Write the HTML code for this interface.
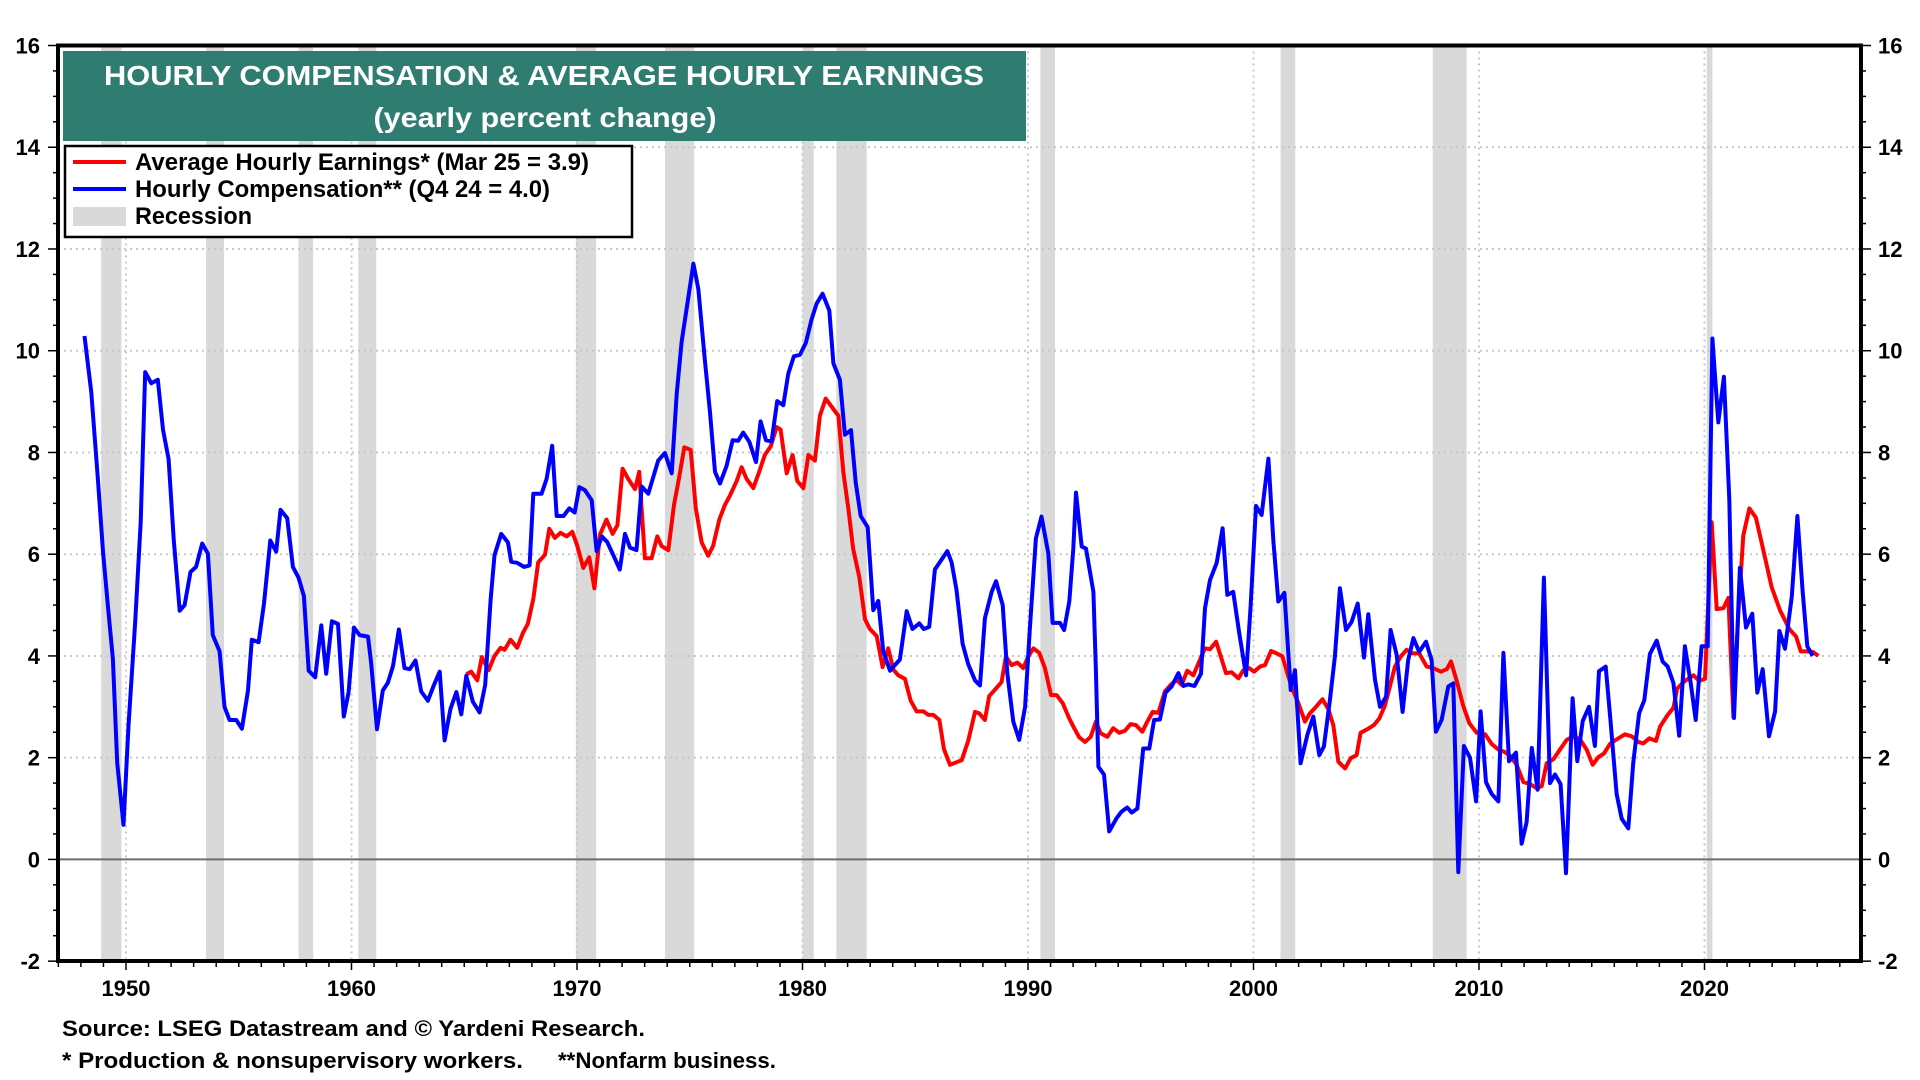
<!DOCTYPE html>
<html><head><meta charset="utf-8"><style>
html,body{margin:0;padding:0;background:#fff;}
svg{display:block;font-family:"Liberation Sans",Arial,sans-serif;}
</style></head><body>
<svg id="chart" width="1920" height="1080" viewBox="0 0 1920 1080" xmlns="http://www.w3.org/2000/svg">
<g id="bands"></g>
<g id="grid"></g>
<g id="series"></g>
<g id="axes"></g>
<g>
<rect x="63" y="51" width="963" height="90" fill="#2f7d70"/>
<text x="544" y="85" text-anchor="middle" fill="#fff" font-weight="bold" font-size="28" textLength="880" lengthAdjust="spacingAndGlyphs">HOURLY COMPENSATION &amp; AVERAGE HOURLY EARNINGS</text>
<text x="545" y="127" text-anchor="middle" fill="#fff" font-weight="bold" font-size="28" textLength="343" lengthAdjust="spacingAndGlyphs">(yearly percent change)</text>
</g>
<g>
<rect x="65" y="146" width="567" height="91" fill="#fff" stroke="#000" stroke-width="2.5"/>
<g>
<line x1="73" y1="162" x2="126" y2="162" stroke="#f00" stroke-width="4"/>
<text x="135" y="170" font-size="24" font-weight="bold" textLength="454" lengthAdjust="spacingAndGlyphs">Average Hourly Earnings* (Mar 25 = 3.9)</text></g>
<g>
<line x1="73" y1="189" x2="126" y2="189" stroke="#00f" stroke-width="4"/>
<text x="135" y="197" font-size="24" font-weight="bold" textLength="415" lengthAdjust="spacingAndGlyphs">Hourly Compensation** (Q4 24 = 4.0)</text></g>
<g>
<rect x="73" y="207" width="53" height="19" fill="#d9d9d9"/>
<text x="135" y="224" font-size="24" font-weight="bold" textLength="117" lengthAdjust="spacingAndGlyphs">Recession</text></g>
</g>
<text x="62" y="1036" font-size="22" font-weight="bold" textLength="583" lengthAdjust="spacingAndGlyphs">Source: LSEG Datastream and © Yardeni Research.</text>
<text x="62" y="1068" font-size="22" font-weight="bold" textLength="461" lengthAdjust="spacingAndGlyphs">* Production &amp; nonsupervisory workers.</text>
<text x="558" y="1068" font-size="22" font-weight="bold" textLength="218" lengthAdjust="spacingAndGlyphs">**Nonfarm business.</text>
</svg>
<script>
const recessionStarts=[1948.9,1953.55,1957.65,1960.3,1969.95,1973.9,1980.0,1981.5,1990.55,2001.2,2007.95,2020.1];
const recessionEnds=[1949.8,1954.35,1958.3,1961.1,1970.85,1975.2,1980.5,1982.85,1991.2,2001.85,2009.45,2020.35];
const yTicks=[-2,0,2,4,6,8,10,12,14,16];
const xTickLabels=[1950,1960,1970,1980,1990,2000,2010,2020];
const blueYears=[1948.16,1948.46,1948.75,1948.98,1949.2,1949.42,1949.61,1949.89,1950.11,1950.41,1950.65,1950.85,1951.12,1951.41,1951.64,1951.89,1952.12,1952.38,1952.6,1952.86,1953.11,1953.38,1953.63,1953.85,1954.15,1954.37,1954.59,1954.89,1955.14,1955.41,1955.58,1955.88,1956.12,1956.4,1956.66,1956.85,1957.15,1957.4,1957.65,1957.89,1958.1,1958.39,1958.66,1958.88,1959.13,1959.4,1959.66,1959.87,1960.11,1960.36,1960.73,1960.87,1961.13,1961.39,1961.61,1961.84,1962.1,1962.35,1962.58,1962.84,1963.09,1963.39,1963.66,1963.91,1964.13,1964.39,1964.65,1964.87,1965.09,1965.38,1965.68,1965.93,1966.17,1966.34,1966.64,1966.94,1967.08,1967.35,1967.65,1967.9,
1968.06,1968.43,1968.65,1968.9,1969.1,1969.4,1969.66,1969.9,1970.1,1970.35,1970.65,1970.87,1971.1,1971.34,1971.6,1971.9,1972.13,1972.35,1972.64,1972.87,1973.16,1973.6,1973.9,1974.2,1974.42,1974.64,1975.16,1975.38,1975.67,1975.9,1976.12,1976.34,1976.63,1976.9,1977.15,1977.37,1977.64,1977.94,1978.14,1978.38,1978.63,1978.88,1979.15,1979.37,1979.62,1979.89,1980.15,1980.4,1980.63,1980.89,1981.19,1981.37,1981.66,1981.88,1982.15,1982.36,1982.58,1982.89,1983.14,1983.36,1983.58,1983.88,1984.32,1984.62,1984.88,1985.18,1985.38,1985.62,1985.87,1986.42,1986.61,1986.83,1987.1,1987.35,1987.65,1987.87,
1988.09,1988.39,1988.58,1988.88,1989.08,1989.35,1989.61,1989.87,1990.09,1990.35,1990.6,1990.9,1991.09,1991.42,1991.6,1991.83,1992.01,1992.13,1992.38,1992.57,1992.9,1993.01,1993.12,1993.37,1993.6,1993.93,1994.15,1994.4,1994.6,1994.85,1995.11,1995.38,1995.59,1995.85,1996.1,1996.37,1996.67,1996.89,1997.11,1997.38,1997.67,1997.85,1998.07,1998.37,1998.63,1998.84,1999.1,1999.37,1999.67,1999.87,2000.11,2000.36,2000.66,2000.88,2001.1,2001.37,2001.65,2001.84,2002.09,2002.39,2002.65,2002.92,2003.12,2003.39,2003.61,2003.83,2004.1,2004.35,2004.62,2004.9,2005.09,2005.39,2005.61,2005.88,2006.08,2006.35,2006.61,2006.86,2007.09,2007.35,2007.65,2007.9,2008.09,2008.34,2008.64,2008.86,
2009.08,2009.33,2009.6,2009.87,2010.07,2010.31,2010.56,2010.86,2011.08,2011.33,2011.64,2011.89,2012.11,2012.34,2012.6,2012.88,2013.15,2013.37,2013.62,2013.86,2014.15,2014.36,2014.6,2014.88,2015.14,2015.32,2015.62,2015.84,2016.1,2016.33,2016.62,2016.84,2017.1,2017.33,2017.58,2017.88,2018.14,2018.37,2018.62,2018.88,2019.13,2019.39,2019.61,2019.87,2020.14,2020.35,2020.61,2020.86,2021.1,2021.31,2021.57,2021.84,2022.12,2022.34,2022.58,2022.86,2023.13,2023.32,2023.57,2023.87,2024.12,2024.35,2024.56,2024.8];
const blueValues=[10.29,9.18,7.5,6.05,4.96,3.94,1.9,0.68,2.63,4.67,6.63,9.58,9.36,9.43,8.45,7.87,6.27,4.89,5.0,5.65,5.75,6.21,6.01,4.41,4.09,3.0,2.74,2.74,2.57,3.32,4.32,4.27,5.03,6.27,6.05,6.87,6.71,5.75,5.54,5.18,3.71,3.58,4.6,3.65,4.68,4.63,2.81,3.29,4.56,4.41,4.38,3.87,2.56,3.32,3.47,3.8,4.52,3.76,3.74,3.91,3.3,3.12,3.43,3.69,2.34,2.96,3.29,2.85,3.61,3.1,2.89,3.43,5.1,5.98,6.4,6.23,5.85,5.83,5.75,5.78,
7.19,7.19,7.48,8.13,6.75,6.75,6.9,6.82,7.32,7.26,7.06,6.06,6.35,6.24,5.99,5.7,6.4,6.13,6.08,7.33,7.19,7.84,7.99,7.59,9.15,10.17,11.71,11.22,9.81,8.79,7.62,7.39,7.73,8.24,8.23,8.39,8.21,7.81,8.61,8.24,8.22,9.01,8.93,9.55,9.89,9.92,10.16,10.61,10.93,11.12,10.79,9.75,9.43,8.35,8.44,7.41,6.75,6.53,4.9,5.08,4.1,3.71,3.93,4.88,4.53,4.64,4.53,4.57,5.7,6.06,5.84,5.3,4.24,3.84,3.52,3.42,
4.74,5.26,5.47,5.0,3.66,2.71,2.35,3.0,4.58,6.31,6.74,6.02,4.65,4.65,4.51,5.07,6.11,7.21,6.15,6.11,5.26,3.72,1.82,1.67,0.55,0.81,0.94,1.02,0.92,1.0,2.18,2.18,2.74,2.75,3.28,3.4,3.66,3.41,3.44,3.41,3.65,4.94,5.49,5.83,6.51,5.2,5.26,4.44,3.62,4.97,6.95,6.77,7.88,6.28,5.07,5.24,3.33,3.72,1.89,2.45,2.81,2.05,2.22,3.13,3.99,5.33,4.51,4.67,5.03,3.97,4.82,3.53,3.0,3.2,4.51,4.02,2.9,3.92,4.35,4.08,4.28,3.92,2.51,2.74,3.4,3.46,
-0.25,2.23,2.0,1.14,2.91,1.52,1.29,1.14,4.06,1.93,2.1,0.31,0.73,2.19,1.37,5.54,1.5,1.67,1.48,-0.27,3.17,1.93,2.72,3.0,2.23,3.7,3.79,2.68,1.29,0.8,0.61,1.89,2.87,3.13,4.04,4.3,3.89,3.79,3.47,2.43,4.19,3.47,2.74,4.19,4.19,10.24,8.59,9.49,7.08,2.78,5.73,4.56,4.83,3.28,3.74,2.42,2.91,4.49,4.14,5.17,6.75,5.28,4.19,4.0];
const redYears=[1965.09,1965.31,1965.58,1965.78,1966.08,1966.34,1966.61,1966.79,1967.05,1967.35,1967.6,1967.82,
1968.06,1968.28,1968.58,1968.77,1969.02,1969.27,1969.54,1969.79,1970.01,1970.28,1970.54,1970.77,1971.02,1971.31,1971.58,1971.79,1972.02,1972.27,1972.57,1972.76,1973.01,1973.31,1973.56,1973.75,1974.05,1974.3,1974.52,1974.76,1975.04,1975.27,1975.53,1975.82,1976.04,1976.31,1976.56,1976.78,1977.08,1977.3,1977.52,1977.82,1978.08,1978.33,1978.59,1978.85,1979.03,1979.3,1979.56,1979.77,1980.04,1980.26,1980.55,1980.77,1981.03,1981.29,1981.59,1981.81,1982.03,1982.25,1982.52,1982.77,1982.99,1983.29,1983.55,1983.8,1984.03,1984.25,1984.54,1984.8,1985.06,1985.36,1985.58,1985.8,1986.07,1986.27,1986.54,1987.06,1987.35,1987.65,1987.84,
1988.09,1988.28,1988.58,1988.83,1989.02,1989.27,1989.53,1989.79,1990.01,1990.24,1990.5,1990.75,1991.02,1991.27,1991.54,1991.83,1992.05,1992.27,1992.53,1992.78,1993.01,1993.22,1993.52,1993.78,1994.05,1994.3,1994.55,1994.79,1995.07,1995.29,1995.53,1995.78,1996.07,1996.33,1996.59,1996.81,1997.06,1997.33,1997.63,1997.85,1998.07,1998.34,1998.54,1998.78,1999.03,1999.33,1999.55,1999.81,2000.02,2000.29,2000.51,2000.78,2001.03,2001.28,2001.5,2001.74,2001.99,2002.28,2002.5,2002.77,2003.06,2003.32,2003.54,2003.76,2004.06,2004.31,2004.57,2004.75,2005.05,2005.34,2005.58,2005.83,2006.05,2006.27,2006.53,2006.79,2007.06,2007.35,2007.68,2007.97,2008.31,2008.57,2008.76,
2009.01,2009.3,2009.57,2009.9,2010.27,2010.56,2010.86,2011.11,2011.37,2011.67,2011.97,2012.26,2012.56,2012.78,2013.0,2013.3,2013.59,2013.89,2014.18,2014.48,2014.77,2015.04,2015.29,2015.54,2015.81,2016.1,2016.47,2016.77,2017.07,2017.29,2017.55,2017.85,2018.03,2018.35,2018.62,2018.79,2019.13,2019.51,2019.77,2020.02,2020.32,2020.54,2020.84,2021.06,2021.28,2021.5,2021.72,2021.99,2022.28,2022.61,2022.98,2023.35,2023.76,2024.06,2024.27,2024.53,2024.8,2025.05];
const redValues=[3.64,3.69,3.52,3.98,3.72,4.0,4.16,4.12,4.32,4.16,4.45,4.63,
5.12,5.84,5.99,6.5,6.32,6.42,6.35,6.44,6.17,5.73,5.94,5.33,6.39,6.68,6.4,6.57,7.68,7.48,7.28,7.62,5.92,5.92,6.35,6.16,6.08,6.97,7.48,8.1,8.05,6.9,6.23,5.97,6.17,6.68,6.97,7.15,7.44,7.71,7.48,7.3,7.62,7.95,8.12,8.5,8.45,7.59,7.95,7.44,7.3,7.95,7.84,8.72,9.06,8.9,8.72,7.62,6.9,6.1,5.55,4.72,4.53,4.39,3.78,4.15,3.73,3.62,3.55,3.12,2.91,2.91,2.84,2.84,2.74,2.17,1.86,1.95,2.33,2.9,2.87,
2.74,3.21,3.36,3.49,3.99,3.82,3.87,3.76,3.99,4.15,4.06,3.76,3.23,3.23,3.07,2.77,2.58,2.4,2.31,2.41,2.71,2.48,2.41,2.58,2.49,2.53,2.66,2.64,2.51,2.71,2.9,2.88,3.3,3.43,3.53,3.43,3.71,3.62,3.93,4.15,4.13,4.28,4.0,3.66,3.68,3.56,3.72,3.76,3.69,3.79,3.82,4.1,4.05,3.99,3.66,3.33,3.07,2.71,2.87,3.0,3.15,2.95,2.64,1.92,1.79,1.99,2.05,2.49,2.56,2.64,2.77,3.03,3.4,3.79,3.99,4.12,4.05,4.05,3.79,3.76,3.69,3.74,3.89,
3.51,3.02,2.68,2.49,2.46,2.27,2.16,2.12,2.04,1.86,1.52,1.48,1.4,1.44,1.89,1.97,2.16,2.35,2.42,2.36,2.16,1.86,2.01,2.08,2.27,2.36,2.46,2.42,2.31,2.28,2.38,2.33,2.61,2.83,2.98,3.36,3.51,3.62,3.51,3.55,6.63,4.92,4.94,5.14,2.8,4.83,6.37,6.9,6.72,6.07,5.35,4.9,4.53,4.38,4.09,4.09,4.08,4.0];

const L=58,R=1861,T=45.5,B=961,Y0=1950,X0=126,PXY=22.55,VMAX=16,PXV=50.87;
function xs(yr){return X0+(yr-Y0)*PXY;}
function ys(v){return T+(VMAX-v)*PXV;}
const NS='http://www.w3.org/2000/svg';
function mk(tag,attrs,parent){const e=document.createElementNS(NS,tag);for(const k in attrs)e.setAttribute(k,attrs[k]);parent.appendChild(e);return e;}
const bands=document.getElementById('bands'),grid=document.getElementById('grid'),series=document.getElementById('series'),axes=document.getElementById('axes');

recessionStarts.forEach((s,i)=>{
  const r=mk('rect',{x:xs(s),y:T,width:xs(recessionEnds[i])-xs(s),height:B-T,fill:'#d9d9d9'},bands);
  
  
});
yTicks.forEach(v=>{
  if(v===16||v===-2)return;
  if(v===0){const z=mk('line',{x1:L,x2:R,y1:ys(0),y2:ys(0),stroke:'#6e6e6e','stroke-width':2},grid);
    
    return;}
  const g=mk('line',{x1:L,x2:R,y1:ys(v),y2:ys(v),stroke:'#c8c8c8','stroke-width':2,'stroke-dasharray':'2 4'},grid);
  
  
});
xTickLabels.forEach(yr=>{
  const g=mk('line',{x1:xs(yr),x2:xs(yr),y1:T,y2:B,stroke:'#c8c8c8','stroke-width':2,'stroke-dasharray':'2 4'},grid);
  
  
});
function path(xa,va,color,name){
  let d='';xa.forEach((yr,i)=>{d+=(i?'L':'M')+xs(yr).toFixed(1)+','+ys(va[i]).toFixed(1);});
  const p=mk('path',{d:d,fill:'none',stroke:color,'stroke-width':4,'stroke-linejoin':'round'},series);
  
  
}
path(redYears,redValues,'#ff0000','average-hourly-earnings-line');
path(blueYears,blueValues,'#0000ff','hourly-compensation-line');

const frame=mk('rect',{x:L,y:T,width:R-L,height:B-T,fill:'none',stroke:'#000','stroke-width':4},axes);


for(let v=-2;v<=16.001;v+=0.5){
  const major=Math.abs(v-Math.round(v/2)*2)<1e-6;const len=major?10:5;
  mk('line',{x1:L-len,x2:L,y1:ys(v),y2:ys(v),stroke:'#000','stroke-width':1.5},axes);
  mk('line',{x1:R,x2:R+len,y1:ys(v),y2:ys(v),stroke:'#000','stroke-width':1.5},axes);
}
yTicks.forEach(v=>{
  const a=mk('text',{x:40,y:ys(v)+8,'text-anchor':'end','font-size':22,'font-weight':'bold'},axes);a.textContent=v;
  
  
  const b=mk('text',{x:1878,y:ys(v)+8,'text-anchor':'start','font-size':22,'font-weight':'bold'},axes);b.textContent=v;
  
  
});
for(let yr=1947;yr<=2026;yr++){
  const major=yr%10===0;
  mk('line',{x1:xs(yr),x2:xs(yr),y1:B,y2:B+(major?9:6),stroke:'#000','stroke-width':1.5},axes);
}
xTickLabels.forEach(yr=>{
  const t=mk('text',{x:xs(yr),y:996,'text-anchor':'middle','font-size':22,'font-weight':'bold'},axes);t.textContent=yr;
  
  
});
</script>
</body></html>
